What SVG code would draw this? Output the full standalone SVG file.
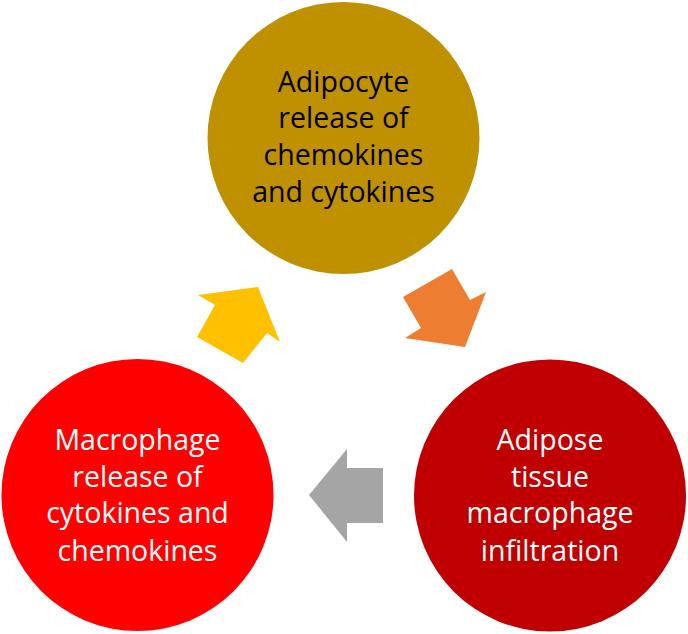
<svg xmlns="http://www.w3.org/2000/svg" width="688" height="634" viewBox="0 0 688 634">
<style>
.lbl{font-family:"Open Sans","Noto Sans","Liberation Sans",sans-serif;font-size:28.5px;text-anchor:middle}
.dark{fill:#000}
.light{fill:#fff}
</style>
<rect width="688" height="634" fill="#fff"/>
<g id="connectors">
<polygon id="arrow-yellow" points="198,295 258,287 280,342 267,333 243,363 197,337 215,305" fill="#FFC000"/>
<polygon id="arrow-orange" points="403,297 452,269 470,300 486,292 465,347 405,338 421,328" fill="#ED7D31"/>
<polygon id="arrow-gray" points="309,495 347,449 347,468 383,468 383,523 347,523 347,542" fill="#A5A5A5"/>
</g>
<g id="node-adipocyte">
<circle cx="343.5" cy="138" r="136" fill="#BF9000"/>
<text class="lbl dark" x="343.5" y="92">Adipocyte</text>
<text class="lbl dark" x="343.5" y="128">release of</text>
<text class="lbl dark" x="343.5" y="165">chemokines</text>
<text class="lbl dark" x="343.5" y="202">and cytokines</text>
</g>
<g id="node-infiltration">
<circle cx="550" cy="495.5" r="136" fill="#C00000"/>
<text class="lbl light" x="550" y="450">Adipose</text>
<text class="lbl light" x="550" y="487">tissue</text>
<text class="lbl light" x="550" y="523">macrophage</text>
<text class="lbl light" x="550" y="561">infiltration</text>
</g>
<g id="node-macrophage">
<circle cx="137.5" cy="495" r="136" fill="#FF0000"/>
<text class="lbl light" x="137.5" y="450">Macrophage</text>
<text class="lbl light" x="137.5" y="487">release of</text>
<text class="lbl light" x="137.5" y="523">cytokines and</text>
<text class="lbl light" x="137.5" y="561">chemokines</text>
</g>
</svg>
